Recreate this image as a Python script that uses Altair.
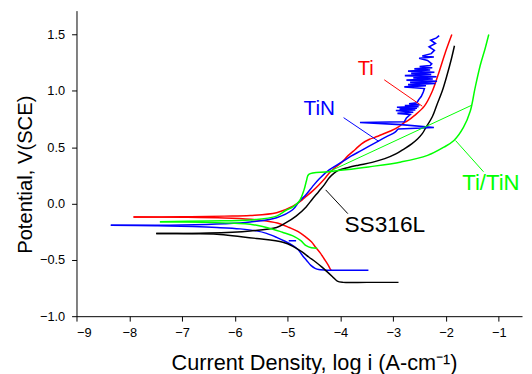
import altair as alt
import pandas as pd

# ---------------- data ----------------
series_names = ["Ti", "TiN", "SS316L", "Ti/TiN"]
series_colors = ["#FF0000", "#0000FF", "#000000", "#00FF00"]

# Ti (red)
ti_cat_x = [-7.92, -7.0, -6.2, -5.7, -5.4, -5.15, -4.97, -4.8, -4.65, -4.55, -4.47, -4.38, -4.31, -4.24, -4.19, -4.17]
ti_cat_y = [-0.12, -0.122, -0.128, -0.14, -0.156, -0.18, -0.213, -0.25, -0.30, -0.34, -0.388, -0.44, -0.49, -0.54, -0.584, -0.595]
ti_an_x = [-7.92, -7.0, -6.2, -5.71, -5.21, -4.90, -4.72, -4.65, -4.53, -4.41, -4.30, -4.22, -4.10, -4.0, -3.85,
           -3.72, -3.60, -3.45, -3.35, -3.2, -3.04, -2.90, -2.79, -2.73, -2.60, -2.41, -2.26, -2.13, -2.01, -1.89]
ti_an_y = [-0.12, -0.118, -0.112, -0.106, -0.082, -0.024, 0.034, 0.063, 0.11, 0.165, 0.22, 0.267, 0.32, 0.355, 0.427,
           0.48, 0.53, 0.57, 0.587, 0.615, 0.646, 0.68, 0.719, 0.733, 0.78, 0.864, 0.996, 1.17, 1.345, 1.50]

# TiN (blue)
tin_cat_x = [-8.35, -7.5, -6.8, -6.34, -5.9, -5.59, -5.4, -5.21, -5.05, -4.90, -4.80, -4.72, -4.64,
             -4.56, -4.48, -4.41, -4.2, -3.9, -3.47]
tin_cat_y = [-0.193, -0.197, -0.205, -0.213, -0.225, -0.243, -0.265, -0.30, -0.335, -0.374, -0.41,
             -0.461, -0.505, -0.549, -0.575, -0.586, -0.592, -0.593, -0.593]
tin_blip_x = [-4.98, -4.84]
tin_blip_y = [-0.33, -0.33]
tin_an_x = [-8.35, -7.0, -6.2, -5.71, -5.21, -4.90, -4.78, -4.65, -4.53, -4.40, -4.22, -3.97, -3.80, -3.60, -3.29,
            -3.10, -2.97, -2.91]
tin_an_y = [-0.193, -0.19, -0.18, -0.164, -0.126, -0.053, 0.019, 0.08, 0.15, 0.22, 0.296, 0.369, 0.42, 0.471, 0.552,
            0.60, 0.631, 0.661]
# noisy upper part of the TiN anodic branch
tin_noise_x = [-2.91, -2.23, -2.85, -3.63, -2.79, -2.75, -2.68, -2.92, -2.62, -2.95, -2.58, -2.88, -2.55, -2.93,
               -2.52, -2.78, -2.50, -2.70, -2.55, -2.52, -2.47, -2.43, -2.41, -2.79, -2.38, -2.72, -2.20, -2.68,
               -2.17, -2.75, -2.25, -2.62, -2.18, -2.78, -2.28, -2.66, -2.22, -2.72, -2.30, -2.60, -2.26, -2.50,
               -2.30, -2.27, -2.35, -2.51, -2.23, -2.45, -2.28, -2.22, -2.32, -2.20, -2.29, -2.18, -2.13]
tin_noise_y = [0.661, 0.675, 0.70, 0.719, 0.725, 0.76, 0.79, 0.80, 0.81, 0.825, 0.83, 0.84, 0.845, 0.855,
               0.86, 0.87, 0.875, 0.885, 0.895, 0.92, 0.95, 0.99, 1.02, 1.035, 1.045, 1.055, 1.065, 1.075,
               1.085, 1.095, 1.105, 1.115, 1.125, 1.135, 1.145, 1.155, 1.165, 1.175, 1.185, 1.195, 1.205, 1.215,
               1.225, 1.24, 1.27, 1.29, 1.30, 1.31, 1.33, 1.36, 1.39, 1.42, 1.45, 1.47, 1.49]

# SS316L (black)
ss_cat_x = [-7.49, -6.8, -6.34, -5.59, -5.09, -4.90, -4.72, -4.60, -4.47, -4.35, -4.25, -4.15, -4.06, -3.95, -3.5, -2.90]
ss_cat_y = [-0.266, -0.268, -0.272, -0.31, -0.344, -0.38, -0.432, -0.475, -0.519, -0.565, -0.607, -0.65, -0.689, -0.70, -0.70, -0.70]
ss_an_x = [-7.49, -6.5, -5.71, -5.21, -5.03, -4.84, -4.65, -4.53, -4.41, -4.30, -4.22, -4.12, -4.03, -3.85, -3.66,
           -3.40, -3.16, -2.95, -2.79, -2.65, -2.54, -2.45, -2.38, -2.26, -2.17, -2.07, -1.98, -1.90, -1.84]
ss_an_y = [-0.266, -0.262, -0.243, -0.213, -0.17, -0.112, -0.03, 0.04, 0.107, 0.17, 0.224, 0.27, 0.296, 0.32, 0.34,
           0.365, 0.398, 0.44, 0.486, 0.53, 0.573, 0.62, 0.675, 0.77, 0.879, 1.0, 1.14, 1.28, 1.40]

# Ti/TiN (green)
g_cat_x = [-7.42, -6.6, -6.0, -5.71, -5.28, -5.1, -4.90, -4.75, -4.65, -4.55, -4.44]
g_cat_y = [-0.161, -0.167, -0.175, -0.184, -0.228, -0.255, -0.287, -0.33, -0.374, -0.393, -0.397]
g_an_x = [-7.42, -6.5, -5.71, -5.21, -5.03, -4.90, -4.78, -4.69, -4.64, -4.60, -4.22, -3.47, -2.85, -2.35, -2.04,
          -1.85, -1.67, -1.54, -1.45, -1.35, -1.26, -1.19]
g_an_y = [-0.161, -0.155, -0.147, -0.112, -0.06, -0.03, 0.02, 0.121, 0.209, 0.259, 0.282, 0.325, 0.369, 0.427, 0.50,
          0.559, 0.675, 0.821, 1.024, 1.229, 1.374, 1.50]
g_thin_x = [-4.22, -1.51]
g_thin_y = [0.282, 0.873]

# annotation labels and pointer lines
label_text = ["Ti", "TiN", "SS316L", "Ti/TiN"]
label_x = [-3.52, -4.40, -3.16, -1.15]
label_y = [1.19, 0.838, -0.193, 0.183]
label_size = [20.5, 21, 23, 22.5]
ptr_x1 = [-3.17, -3.94, -4.28, -1.82]
ptr_y1 = [1.098, 0.762, 0.121, 0.559]
ptr_x2 = [-2.45, -3.27, -3.86, -1.29]
ptr_y2 = [0.864, 0.55, -0.09, 0.282]

x_ticks = [-9, -8.5, -8, -7.5, -7, -6.5, -6, -5.5, -5, -4.5, -4, -3.5, -3, -2.5, -2, -1.5, -1]
y_ticks = [-1.0, -0.75, -0.5, -0.25, 0.0, 0.25, 0.5, 0.75, 1.0, 1.25, 1.5]

# ---------------- tables ----------------
def table(segs):
    rows = []
    for s, sg, xs, ys in segs:
        for i, (a, b) in enumerate(zip(xs, ys)):
            rows.append({"series": s, "seg": sg, "o": i, "x": a, "y": b})
    return pd.DataFrame(rows)

smooth = table([
    ("Ti", "Ti_c", ti_cat_x, ti_cat_y), ("Ti", "Ti_a", ti_an_x, ti_an_y),
    ("TiN", "TiN_c", tin_cat_x, tin_cat_y), ("TiN", "TiN_a", tin_an_x, tin_an_y),
    ("SS316L", "SS_c", ss_cat_x, ss_cat_y), ("SS316L", "SS_a", ss_an_x, ss_an_y),
    ("Ti/TiN", "G_c", g_cat_x, g_cat_y), ("Ti/TiN", "G_a", g_an_x, g_an_y),
])
noisy = table([("TiN", "TiN_n", tin_noise_x, tin_noise_y), ("TiN", "TiN_b", tin_blip_x, tin_blip_y)])
thin = pd.DataFrame({"x": g_thin_x, "y": g_thin_y, "o": [0, 1]})
labels = pd.DataFrame({"t": label_text, "x": label_x, "y": label_y, "c": series_colors, "s": label_size})
ptrs = pd.DataFrame({"x": ptr_x1, "y": ptr_y1, "x2": ptr_x2, "y2": ptr_y2, "c": series_colors})

FONT = "Liberation Sans"
xscale = alt.Scale(domain=[-9, -0.56], nice=False, zero=False)
yscale = alt.Scale(domain=[-1.0, 1.712], nice=False, zero=False)
cscale = alt.Scale(domain=series_names, range=series_colors)

xaxis = alt.Axis(
    values=x_ticks,
    labelExpr="datum.value % 1 == 0 ? format(datum.value, 'd') : ''",
    tickSize={"condition": {"test": "datum.value % 1 != 0", "value": 3}, "value": 5},
    title="Current Density, log i (A-cm\u207b\u00b9)",
    titleX=241, titleY=47, titleAlign="center", titleBaseline="middle", titleFontSize=22,
    labelPadding=6,
)
yaxis = alt.Axis(
    values=y_ticks,
    labelExpr="(datum.value*2) % 1 == 0 ? format(datum.value, '.1f') : ''",
    tickSize={"condition": {"test": "(datum.value*2) % 1 != 0", "value": 3}, "value": 5},
    title="Potential, V(SCE)",
    titleX=-52, titleY=166, titleAlign="center", titleBaseline="middle", titleAngle=270, titleFontSize=20.5,
    labelPadding=7,
)

smooth_lines = alt.Chart(smooth).mark_line(strokeWidth=1.5, clip=True, interpolate="catmull-rom").encode(
    x=alt.X("x:Q", scale=xscale, axis=xaxis),
    y=alt.Y("y:Q", scale=yscale, axis=yaxis),
    color=alt.Color("series:N", scale=cscale, legend=None),
    detail="seg:N",
    order="o:Q",
)
noisy_lines = alt.Chart(noisy).mark_line(strokeWidth=1.6, clip=True).encode(
    x=alt.X("x:Q", scale=xscale), y=alt.Y("y:Q", scale=yscale),
    color=alt.Color("series:N", scale=cscale, legend=None),
    detail="seg:N", order="o:Q",
)
thin_line = alt.Chart(thin).mark_line(strokeWidth=1, color="#00FF00", clip=True).encode(
    x=alt.X("x:Q", scale=xscale), y=alt.Y("y:Q", scale=yscale), order="o:Q"
)
pointer = alt.Chart(ptrs).mark_rule(strokeWidth=1).encode(
    x=alt.X("x:Q", scale=xscale), y=alt.Y("y:Q", scale=yscale),
    x2="x2:Q", y2="y2:Q", color=alt.Color("c:N", scale=None),
)
text = alt.Chart(labels).mark_text(font=FONT, align="center", baseline="middle").encode(
    x=alt.X("x:Q", scale=xscale), y=alt.Y("y:Q", scale=yscale),
    text="t:N", color=alt.Color("c:N", scale=None), size=alt.Size("s:Q", scale=None),
)

chart = alt.layer(smooth_lines, noisy_lines, thin_line, pointer, text).properties(
    width=452, height=310,
    autosize=alt.AutoSizeParams(type="none"),
    padding={"left": 69.5, "top": 0, "right": 2, "bottom": 56},
).configure_view(stroke=None).configure_axis(
    grid=False, domainColor="black", tickColor="black", labelColor="black", titleColor="black",
    labelFont=FONT, titleFont=FONT, labelFontSize=13, titleFontWeight="normal",
    domainWidth=1, tickWidth=1,
)

chart.save("out.html", embed_options={"renderer": "svg", "actions": False})
